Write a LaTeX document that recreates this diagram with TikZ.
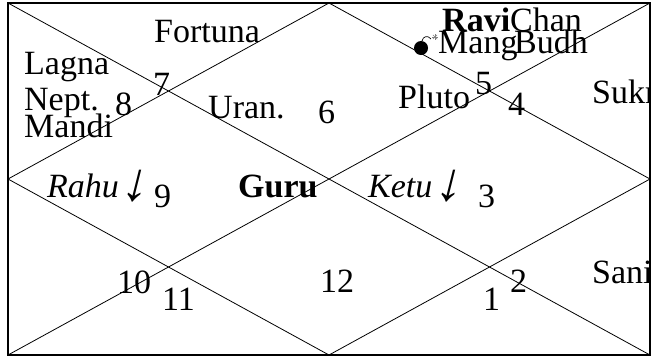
\documentclass[tikz,border=0pt]{standalone}
\usepackage{fontspec}
\setmainfont{Liberation Serif}
\newfontfamily\vakrafont{Liberation Serif}[FakeSlant=0.25]
\usepackage{tikz}
\usetikzlibrary{positioning}
\newcommand{\vakra}{{\vakrafont\fontsize{54}{56}\selectfont\raisebox{-3pt}{↓}}}

\begin{document}
\begin{tikzpicture}[
  x=1pt, y=-1pt,
  frame/.style = {draw=black, line width=1.2pt},
  grid/.style  = {draw=black, line width=0.8pt},
  rasi/.style  = {anchor=base west, inner sep=0pt, font=\fontsize{34}{36}\selectfont},
  graha/.style = {anchor=base west, inner sep=0pt, font=\fontsize{34}{36}\selectfont},
]
\useasboundingbox (0,0) rectangle (655,360);
\coordinate (nw) at (8,3);
\coordinate (ne) at (650,3);
\coordinate (se) at (650,355);
\coordinate (sw) at (8,355);
\coordinate (n)  at (329,3);
\coordinate (e)  at (650,179);
\coordinate (s)  at (329,355);
\coordinate (w)  at (8,179);
\draw[grid] (nw) -- (se);
\draw[grid] (ne) -- (sw);
\draw[grid] (n) -- (e) -- (s) -- (w) -- cycle;
\draw[frame] (nw) rectangle (se);
\begin{scope}
\clip (nw) rectangle (se);
% house numbers
\node[rasi] (h1)  at (483,310) {1};
\node[rasi] (h2)  at (510,292) {2};
\node[rasi] (h3)  at (478,207) {3};
\node[rasi] (h4)  at (508,115) {4};
\node[rasi] (h5)  at (475,94)  {5};
\node[rasi] (h6)  at (318,123) {6};
\node[rasi] (h7)  at (153,95)  {7};
\node[rasi] (h8)  at (115,115) {8};
\node[rasi] (h9)  at (154,207) {9};
\node[rasi] (h10) at (117,293) {10};
\node[rasi] (h11) at (162,310) {11};
\node[rasi] (h12) at (320,292) {12};
% planets
\node[graha] (fortuna) at (154,42)  {Fortuna};
\node[graha] (lagna)   at (24,74)   {Lagna};
\node[graha] (nept)    at (24,110)  {Nept.};
\node[graha] (mandi)   at (24,137)  {Mandi};
\node[graha] (uran)    at (208,118) {Uran.};
\node[graha] (ravi)    at (442,31)  {\textbf{Ravi}Chan};
\node[graha] (mang)    at (438,53)  {Mang};
\node[graha] (budh)    at (514,53)  {Budh};
\node[graha] (pluto)   at (398,108) {Pluto};
\node[graha] (sukr)    at (592,103) {Sukr};
\node[graha] (rahu)    at (47,197)  {\textit{Rahu}\kern1pt\vakra};
\node[graha] (guru)    at (238,197) {\textbf{Guru}};
\node[graha] (ketu)    at (368,197) {\textit{Ketu}\kern1pt\vakra};
\node[graha] (sani)    at (592,283) {Sani};
% combust mark
\fill (421,48) circle (7);
\draw[line width=0.7pt] (422,41) .. controls (423,36) and (428,35) .. (431,39);
\foreach \a in {0,45,...,315}
  \draw[gray, line width=0.4pt] (435,37) -- ++(\a:3);
\end{scope}
\end{tikzpicture}
\end{document}
